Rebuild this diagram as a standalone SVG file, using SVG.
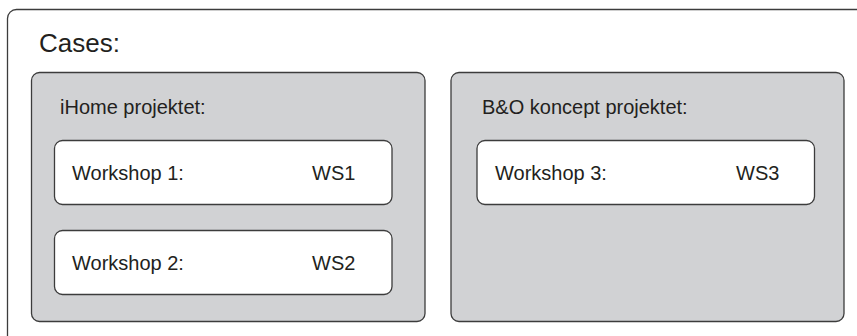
<svg xmlns="http://www.w3.org/2000/svg" width="857" height="336" viewBox="0 0 857 336">
<style>
text{font-family:"Liberation Sans",Arial,sans-serif;fill:#231f20;font-size:20px}
.outer{fill:#fff;stroke:#3c3c3c;stroke-width:1.3}
.group{fill:#d1d2d4;stroke:#3c3c3c;stroke-width:1.3}
.ws{fill:#fff;stroke:#3c3c3c;stroke-width:1.3}
.title{font-size:26px}
</style>
<rect width="857" height="336" fill="#fff"/>
<g id="cases">
<rect class="outer" x="7.5" y="9.5" width="880" height="360" rx="9"/>
<text class="title" x="39" y="52">Cases:</text>
</g>
<g id="ihome">
<rect class="group" x="31.5" y="72.5" width="393.5" height="249" rx="8"/>
<text x="60" y="114">iHome projektet:</text>
</g>
<g id="ws1">
<rect class="ws" x="54.5" y="140.5" width="337.5" height="64" rx="8"/>
<text x="72" y="180">Workshop 1:</text>
<text x="312" y="180">WS1</text>
</g>
<g id="ws2">
<rect class="ws" x="54.5" y="230.5" width="337.5" height="64" rx="8"/>
<text x="72" y="270">Workshop 2:</text>
<text x="312" y="270">WS2</text>
</g>
<g id="bo">
<rect class="group" x="451" y="72.5" width="393" height="249" rx="8"/>
<text x="482" y="114">B&amp;O koncept projektet:</text>
</g>
<g id="ws3">
<rect class="ws" x="477" y="140.5" width="337.5" height="64" rx="8"/>
<text x="495" y="180">Workshop 3:</text>
<text x="736" y="180">WS3</text>
</g>
<g id="connectors"/>
</svg>
